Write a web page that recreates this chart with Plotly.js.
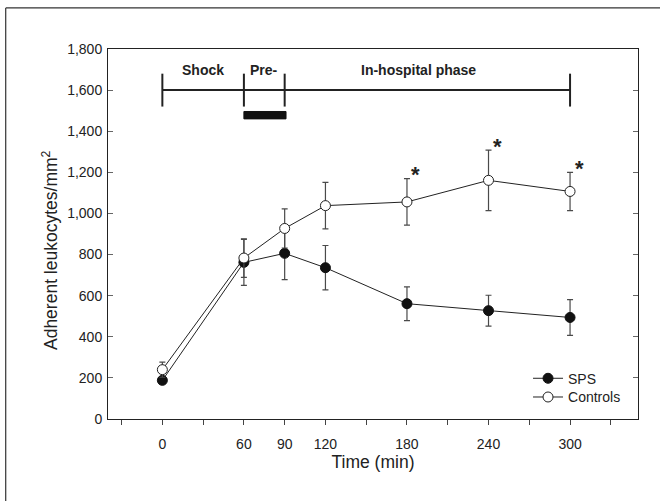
<!DOCTYPE html>
<html>
<head>
<meta charset="utf-8">
<script src="https://cdn.plot.ly/plotly-3.0.1.min.js"></script>
<style>
  html, body { margin: 0; padding: 0; background: #fff; }
  #chart { width: 660px; height: 501px; }
</style>
</head>
<body>
<div id="chart"></div>
<script>
// ---- data ----
const time = [0, 60, 90, 120, 180, 240, 300];
const sps = [188, 762, 806, 736, 561, 527, 494];
const spsErr = [15, 112, 128, 108, 82, 75, 87];
const controls = [240, 783, 927, 1038, 1056, 1161, 1107];
const controlsErr = [37, 94, 95, 113, 113, 147, 93];
const sigIndex = [4, 5, 6];              // time points marked with *
const xTickVals = [-30, 0, 30, 60, 90, 120, 150, 180, 210, 240, 270, 300, 330];
const xTickText = ['', '0', '', '60', '90', '120', '', '180', '', '240', '', '300', ''];
const yTickVals = [0, 200, 400, 600, 800, 1000, 1200, 1400, 1600, 1800];
const phaseBounds = [0, 60, 90, 300];
const phaseLabels = ['Shock', 'Pre-', 'In-hospital phase'];
const phaseLevel = 1600;
const pretreatment = [60, 90];

// ---- styling ----
const FONT = 'Liberation Sans, Arial, sans-serif';
const INK = '#222';

const errStyle = (arr) => ({
  type: 'data', array: arr, visible: true,
  color: '#4a4a4a', thickness: 1.2, width: 3
});

const traces = [
  {
    x: time, y: sps, name: 'SPS', type: 'scatter', mode: 'lines+markers',
    legend: 'legend',
    line: { color: INK, width: 1 },
    marker: { symbol: 'circle', size: 10, color: '#111', line: { color: '#111', width: 1 } },
    error_y: errStyle(spsErr)
  },
  {
    x: time, y: controls, name: 'Controls', type: 'scatter', mode: 'lines+markers',
    legend: 'legend2',
    line: { color: INK, width: 1 },
    marker: { symbol: 'circle', size: 10, color: '#fff', line: { color: '#222', width: 1 } },
    error_y: errStyle(controlsErr)
  }
];

// phase bar shapes & labels
const shapes = [];
const annotations = [];
shapes.push({
  type: 'line', xref: 'x', yref: 'y',
  x0: phaseBounds[0], x1: phaseBounds[phaseBounds.length - 1],
  y0: phaseLevel, y1: phaseLevel,
  line: { color: INK, width: 2 }
});
phaseBounds.forEach(b => {
  shapes.push({
    type: 'line', xref: 'x', yref: 'y',
    x0: b, x1: b, y0: phaseLevel - 80, y1: phaseLevel + 80,
    line: { color: INK, width: 2 }
  });
});
shapes.push({
  type: 'rect', xref: 'x', yref: 'y',
  x0: pretreatment[0], x1: pretreatment[1] + 1, y0: phaseLevel - 140, y1: phaseLevel - 104,
  fillcolor: '#111', line: { color: '#111', width: 1 }
});
phaseLabels.forEach((t, i) => {
  annotations.push({
    xref: 'x', yref: 'y',
    x: (phaseBounds[i] + phaseBounds[i + 1]) / 2,
    y: phaseLevel + 100,
    xshift: i === 2 ? -9 : 0,
    text: '<b>' + t + '</b>', showarrow: false,
    font: { family: FONT, size: 14, color: INK }
  });
});

// significance asterisks
sigIndex.forEach(i => {
  annotations.push({
    xref: 'x', yref: 'y', x: time[i], y: controls[i] + controlsErr[i],
    xshift: 9, yshift: 4, yanchor: 'middle',
    text: '<b>*</b>', showarrow: false,
    font: { family: FONT, size: 22, color: INK }
  });
});

// y-axis title
annotations.push({
  xref: 'paper', yref: 'paper', x: -0.1104, y: 0.458,
  xanchor: 'center', yanchor: 'middle', textangle: -90,
  text: 'Adherent leukocytes/mm<sup>2</sup>', showarrow: false,
  font: { family: FONT, size: 17.5, color: INK }
});

// outer figure frame (left and top edges)
shapes.push({
  type: 'line', xref: 'paper', yref: 'paper',
  x0: -0.193, x1: -0.193, y0: -0.25, y1: 1.111,
  line: { color: '#333', width: 1.2 }
});
shapes.push({
  type: 'line', xref: 'paper', yref: 'paper',
  x0: -0.193, x1: 1.06, y0: 1.111, y1: 1.111,
  line: { color: '#333', width: 1.2 }
});

const legendBase = {
  x: 0.7925, xanchor: 'left', yanchor: 'middle',
  bgcolor: 'rgba(0,0,0,0)', borderwidth: 0,
  font: { family: FONT, size: 14, color: INK }
};

const layout = {
  width: 660, height: 501,
  margin: { l: 108.3, r: 21.7, t: 49.3, b: 81.7 },
  paper_bgcolor: '#fff', plot_bgcolor: '#fff',
  font: { family: FONT, size: 14, color: INK },
  showlegend: true,
  legend: Object.assign({}, legendBase, { y: 0.109 }),
  legend2: Object.assign({}, legendBase, { y: 0.0584 }),
  xaxis: {
    range: [-40, 350], autorange: false,
    tickmode: 'array', tickvals: xTickVals, ticktext: xTickText,
    ticks: 'outside', ticklen: 5, tickwidth: 1, tickcolor: '#444',
    showline: true, linecolor: INK, linewidth: 1, mirror: true,
    showgrid: false, zeroline: false,
    tickfont: { family: FONT, size: 14, color: INK },
    ticklabelstandoff: 7,
    title: { text: 'Time (min)', font: { family: FONT, size: 17.5, color: INK }, standoff: 2 }
  },
  yaxis: {
    range: [0, 1800], autorange: false,
    tickmode: 'array', tickvals: yTickVals, tickformat: ',d',
    ticks: 'inside', ticklen: 5, tickwidth: 1, tickcolor: '#666',
    showline: true, linecolor: INK, linewidth: 1, mirror: 'ticks',
    showgrid: false, zeroline: false,
    tickfont: { family: FONT, size: 14, color: INK },
    ticklabelstandoff: 2
  },
  shapes: shapes,
  annotations: annotations
};

Plotly.newPlot('chart', traces, layout, { displayModeBar: false, staticPlot: true });
</script>
</body>
</html>
